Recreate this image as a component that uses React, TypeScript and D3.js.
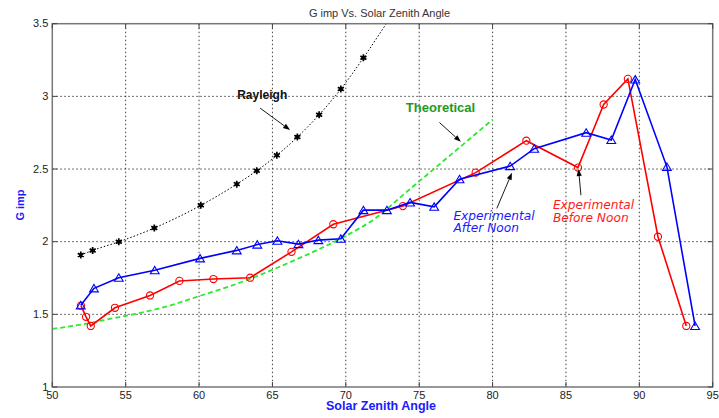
import React from "react";
import * as d3 from "d3";

// Solar zenith angle (deg) and G imp for each series
const rayleighAngle = [51.94, 52.75, 54.53, 56.95, 60.12, 62.57, 63.93, 65.3, 66.7, 68.18, 69.66, 71.2];
const rayleighG = [1.908, 1.94, 1.999, 2.094, 2.25, 2.396, 2.488, 2.594, 2.72, 2.873, 3.05, 3.265];
// the fitted curve keeps rising past the top of the axes
const rayleighTailAngle = [72.75];
const rayleighTailG = [3.5];

const theoAngle = [50, 52, 54, 56, 58, 60, 62, 64, 66, 68, 70, 72, 74, 76, 78, 80];
const theoG = [1.4, 1.43, 1.47, 1.51, 1.56, 1.625, 1.69, 1.765, 1.85, 1.94, 2.04, 2.16, 2.33, 2.5, 2.67, 2.84];

const beforeNoonAngle = [51.95, 52.3, 52.62, 54.27, 56.66, 58.66, 60.98, 63.48, 66.3, 69.15, 73.89, 78.85, 82.3, 85.82, 87.57, 89.22, 91.27, 93.2];
const beforeNoonG = [1.56, 1.483, 1.42, 1.545, 1.63, 1.73, 1.743, 1.752, 1.93, 2.12, 2.245, 2.475, 2.695, 2.51, 2.944, 3.12, 2.034, 1.42];

const afterNoonAngle = [51.94, 52.84, 54.53, 56.98, 60.07, 62.57, 63.97, 65.34, 66.77, 68.13, 69.66, 71.2, 72.8, 74.38, 76.02, 77.75, 81.2, 82.84, 86.38, 88.09, 89.72, 91.88, 93.8];
const afterNoonG = [1.562, 1.679, 1.752, 1.803, 1.885, 1.94, 1.98, 2.006, 1.983, 2.011, 2.02, 2.217, 2.217, 2.27, 2.24, 2.43, 2.52, 2.64, 2.75, 2.7, 3.116, 2.515, 1.42];

const xTicks = [50, 55, 60, 65, 70, 75, 80, 85, 90, 95];
const yTicks = [1, 1.5, 2, 2.5, 3, 3.5];

// annotation text anchors and arrows, in data units
const rayleighLabel = { text: ["Rayleigh"], x: 62.6, y: [2.98] };
const rayleighArrow = { x1: 64.16, y1: 2.919, x2: 66.2, y2: 2.768 };
const theoLabel = { text: ["Theoretical"], x: 74.09, y: [2.891] };
const theoArrow = { x1: 76.38, y1: 2.82, x2: 77.84, y2: 2.687 };
const afterLabel = { text: ["Experimental", "After Noon"], x: 77.33, y: [2.149, 2.066] };
const afterArrow = { x1: 80.29, y1: 2.229, x2: 81.32, y2: 2.474 };
const beforeLabel = { text: ["Experimental", "Before Noon"], x: 84.11, y: [2.224, 2.137] };
const beforeArrow = { x1: 86.02, y1: 2.32, x2: 85.86, y2: 2.5 };

const W = 719;
const H = 418;
const left = 52.3;
const right = 712.7;
const top = 23.7;
const bottom = 387;

const x = d3.scaleLinear().domain([50, 95]).range([left, right]);
const y = d3.scaleLinear().domain([1, 3.5]).range([bottom, top]);

const zip = (a: number[], b: number[]) => a.map((v, i) => [v, b[i]] as [number, number]);

const line = d3
  .line<[number, number]>()
  .x((d) => x(d[0]))
  .y((d) => y(d[1]));
const smooth = d3
  .line<[number, number]>()
  .x((d) => x(d[0]))
  .y((d) => y(d[1]))
  .curve(d3.curveMonotoneX);

const asterisk = d3.symbol(d3.symbolAsterisk, 34)();
const tri = "M0,-3.9L4.4,3.5L-4.4,3.5Z";

function Arrow({ a }: { a: { x1: number; y1: number; x2: number; y2: number } }) {
  const x1 = x(a.x1), y1 = y(a.y1), x2 = x(a.x2), y2 = y(a.y2);
  const ang = Math.atan2(y2 - y1, x2 - x1);
  const L = 7, Wd = 2.6;
  const bx = x2 - L * Math.cos(ang), by = y2 - L * Math.sin(ang);
  const px = -Math.sin(ang) * Wd, py = Math.cos(ang) * Wd;
  return (
    <g>
      <line x1={x1} y1={y1} x2={bx} y2={by} stroke="#000" strokeWidth={0.9} />
      <path d={`M${x2},${y2}L${bx + px},${by + py}L${bx - px},${by - py}Z`} fill="#000" />
    </g>
  );
}

function Label({ l, fill, style }: { l: { text: string[]; x: number; y: number[] }; fill: string; style: React.CSSProperties }) {
  return (
    <text fill={fill} style={style}>
      {l.text.map((t, i) => (
        <tspan key={t} x={x(l.x)} y={y(l.y[i])}>
          {t}
        </tspan>
      ))}
    </text>
  );
}

export default function App() {
  const rayleighPts = zip(rayleighAngle, rayleighG);
  const rayleighAll = rayleighPts.concat(zip(rayleighTailAngle, rayleighTailG));
  const theoPts = zip(theoAngle, theoG);
  const bnPts = zip(beforeNoonAngle, beforeNoonG);
  const anPts = zip(afterNoonAngle, afterNoonG);

  const sans = "'Liberation Sans', Arial, sans-serif";
  const tickStyle: React.CSSProperties = { fontFamily: sans, fontSize: 11, fill: "#222" };

  return (
    <div style={{ position: "fixed", left: 0, top: 0, width: W, height: H, background: "#fff" }}>
      <svg width={W} height={H} style={{ display: "block" }}>
        <defs>
          <clipPath id="plotArea">
            <rect x={left} y={top} width={right - left} height={bottom - top} />
          </clipPath>
        </defs>
        <rect x={0} y={0} width={W} height={H} fill="#fff" />

        {/* grid */}
        <g stroke="#111" strokeWidth={0.8} strokeDasharray="1.5,2.5">
          {xTicks.slice(1, -1).map((t) => (
            <line key={`gx${t}`} x1={x(t)} x2={x(t)} y1={top} y2={bottom} />
          ))}
          {yTicks.slice(1, -1).map((t) => (
            <line key={`gy${t}`} x1={left} x2={right} y1={y(t)} y2={y(t)} />
          ))}
        </g>

        <g clipPath="url(#plotArea)">
          {/* Rayleigh */}
          <path d={smooth(rayleighAll) || ""} fill="none" stroke="#000" strokeWidth={1} strokeDasharray="1.5,2" />
          {rayleighPts.map((p, i) => (
            <g key={`r${i}`} transform={`translate(${x(p[0])},${y(p[1])})`}>
              <circle r={2} fill="#000" />
              <path d={asterisk || ""} stroke="#000" strokeWidth={1.7} fill="none" />
            </g>
          ))}

          {/* Theoretical */}
          <path d={smooth(theoPts) || ""} fill="none" stroke="#2ee82e" strokeWidth={1.8} strokeDasharray="5,3" />

          {/* Experimental before noon */}
          <path d={line(bnPts) || ""} fill="none" stroke="#ff0000" strokeWidth={1.6} />
          {bnPts.map((p, i) => (
            <circle key={`b${i}`} cx={x(p[0])} cy={y(p[1])} r={3.6} fill="none" stroke="#ff0000" strokeWidth={1.1} />
          ))}

          {/* Experimental after noon */}
          <path d={line(anPts) || ""} fill="none" stroke="#0000ff" strokeWidth={1.6} />
          {anPts.map((p, i) => (
            <path
              key={`a${i}`}
              d={tri}
              transform={`translate(${x(p[0])},${y(p[1])})`}
              fill="none"
              stroke="#0000ff"
              strokeWidth={1.1}
            />
          ))}
        </g>

        {/* frame */}
        <rect x={left} y={top} width={right - left} height={bottom - top} fill="none" stroke="#777" strokeWidth={1.5} />

        {/* tick marks */}
        <g stroke="#444" strokeWidth={1}>
          {xTicks.map((t) => (
            <g key={`tx${t}`}>
              <line x1={x(t)} x2={x(t)} y1={bottom} y2={bottom - 5} />
              <line x1={x(t)} x2={x(t)} y1={top} y2={top + 5} />
            </g>
          ))}
          {yTicks.map((t) => (
            <g key={`ty${t}`}>
              <line x1={left} x2={left + 5} y1={y(t)} y2={y(t)} />
              <line x1={right} x2={right - 5} y1={y(t)} y2={y(t)} />
            </g>
          ))}
        </g>

        {/* tick labels */}
        {xTicks.map((t) => (
          <text key={`lx${t}`} x={x(t)} y={bottom + 11.5} textAnchor="middle" style={tickStyle}>
            {t}
          </text>
        ))}
        {yTicks.map((t) => (
          <text key={`ly${t}`} x={left - 4} y={y(t) + 3.5} textAnchor="end" style={tickStyle}>
            {t}
          </text>
        ))}

        {/* title and axis labels */}
        <text x={379.5} y={17} textAnchor="middle" style={{ fontFamily: sans, fontSize: 11, fill: "#333" }}>
          G imp Vs. Solar Zenith Angle
        </text>
        <text x={381} y={410} textAnchor="middle" style={{ fontFamily: sans, fontSize: 12.5, fontWeight: "bold", fill: "#1a1aff" }}>
          Solar Zenith Angle
        </text>
        <text
          transform={`translate(24,205) rotate(-90)`}
          textAnchor="middle"
          style={{ fontFamily: sans, fontSize: 11, fontWeight: "bold", fill: "#1a1aff" }}
        >
          G imp
        </text>

        {/* annotations */}
        <Label l={rayleighLabel} fill="#111" style={{ fontFamily: sans, fontSize: 12, fontWeight: "bold" }} />
        <Arrow a={rayleighArrow} />
        <Label l={theoLabel} fill="#1e9a1e" style={{ fontFamily: sans, fontSize: 13, fontWeight: "bold" }} />
        <Arrow a={theoArrow} />
        <Label l={afterLabel} fill="#1a1aff" style={{ fontFamily: "'DejaVu Sans', sans-serif", fontSize: 12.2, fontStyle: "italic" }} />
        <Arrow a={afterArrow} />
        <Label l={beforeLabel} fill="#ff1a1a" style={{ fontFamily: "'DejaVu Sans', sans-serif", fontSize: 12.2, fontStyle: "italic" }} />
        <Arrow a={beforeArrow} />
      </svg>
    </div>
  );
}
